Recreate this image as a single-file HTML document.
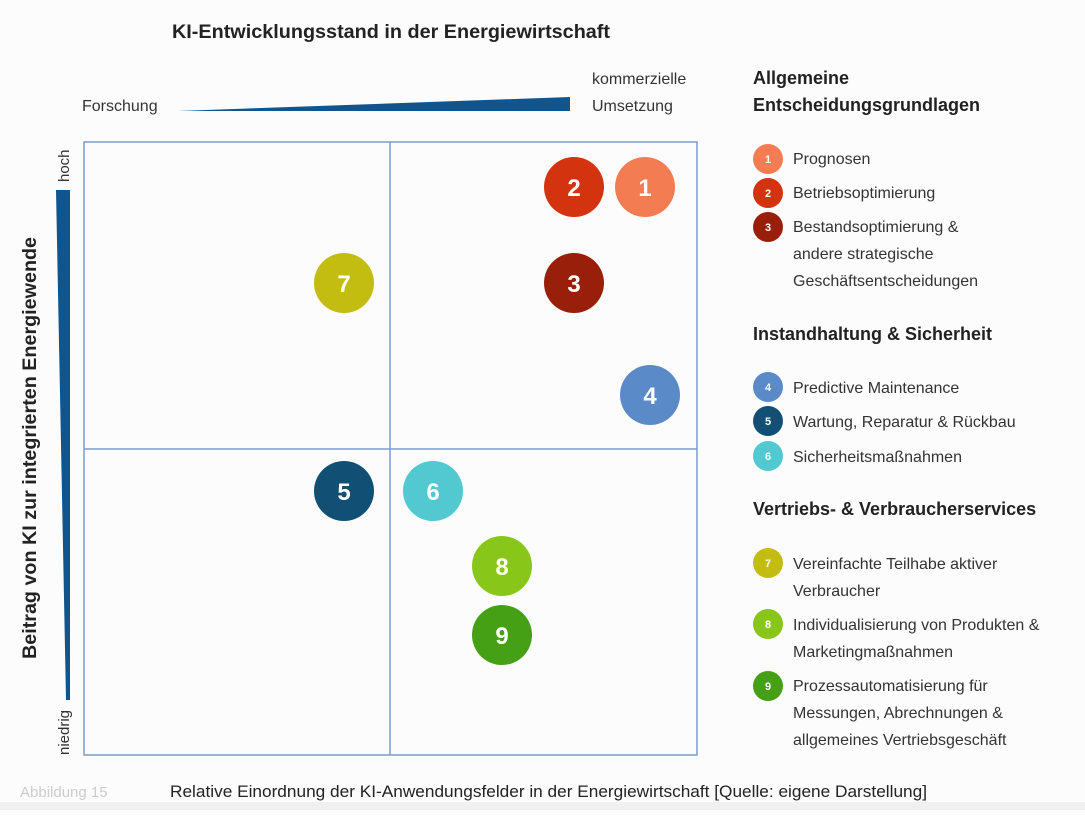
<!DOCTYPE html>
<html><head><meta charset="utf-8"><style>
body{margin:0;background:#fcfcfc;}
svg text{font-family:"Liberation Sans",sans-serif;}
</style></head><body>
<svg width="1085" height="810" viewBox="0 0 1085 810" xmlns="http://www.w3.org/2000/svg">
<rect width="1085" height="810" fill="#fcfcfc"/>
<rect x="0" y="802" width="1085" height="8" fill="#f0f0f0"/>
<text x="391" y="38" font-size="19" font-weight="bold" text-anchor="middle" fill="#222" textLength="438" lengthAdjust="spacingAndGlyphs">KI-Entwicklungsstand in der Energiewirtschaft</text>
<text x="82" y="111" font-size="16" fill="#333">Forschung</text>
<polygon points="178,111 570,97 570,111" fill="#0f5590"/>
<text x="592" y="84" font-size="16" fill="#333">kommerzielle</text>
<text x="592" y="111" font-size="16" fill="#333">Umsetzung</text>
<text transform="translate(69,182) rotate(-90)" font-size="15" fill="#333">hoch</text>
<text transform="translate(69,755) rotate(-90)" font-size="15" fill="#333">niedrig</text>
<polygon points="56,190 70,190 70,700 66,700" fill="#0f5590"/>
<text transform="translate(36,448) rotate(-90)" font-size="19" font-weight="bold" text-anchor="middle" fill="#222" textLength="422" lengthAdjust="spacingAndGlyphs">Beitrag von KI zur integrierten Energiewende</text>
<g stroke="#7d9bcb" stroke-width="1.5" fill="none">
<rect x="84" y="142" width="613" height="613"/>
<line x1="390" y1="142" x2="390" y2="755"/>
<line x1="84" y1="449" x2="697" y2="449"/>
</g>
<g font-size="24" font-weight="bold" fill="#fff" text-anchor="middle">
<circle cx="645" cy="187" r="30" fill="#f47c52"/><text x="645" y="196">1</text>
<circle cx="574" cy="187" r="30" fill="#d4330f"/><text x="574" y="196">2</text>
<circle cx="574" cy="283" r="30" fill="#9a1f0b"/><text x="574" y="292">3</text>
<circle cx="650" cy="395" r="30" fill="#5b8ac8"/><text x="650" y="404">4</text>
<circle cx="344" cy="491" r="30" fill="#124f75"/><text x="344" y="500">5</text>
<circle cx="433" cy="491" r="30" fill="#52c8d0"/><text x="433" y="500">6</text>
<circle cx="344" cy="283" r="30" fill="#c3bd12"/><text x="344" y="292">7</text>
<circle cx="502" cy="566" r="30" fill="#88c61a"/><text x="502" y="575">8</text>
<circle cx="502" cy="635" r="30" fill="#45a015"/><text x="502" y="644">9</text>
</g>
<g font-size="18" font-weight="bold" fill="#222">
<text x="753" y="84">Allgemeine</text>
<text x="753" y="111">Entscheidungsgrundlagen</text>
<text x="753" y="340">Instandhaltung &amp; Sicherheit</text>
<text x="753" y="515">Vertriebs- &amp; Verbraucherservices</text>
</g>
<g font-size="11" font-weight="bold" fill="#fff" text-anchor="middle">
<circle cx="768" cy="159" r="15" fill="#f47c52"/><text x="768" y="163">1</text>
<circle cx="768" cy="193" r="15" fill="#d4330f"/><text x="768" y="197">2</text>
<circle cx="768" cy="227" r="15" fill="#9a1f0b"/><text x="768" y="231">3</text>
<circle cx="768" cy="387" r="15" fill="#5b8ac8"/><text x="768" y="391">4</text>
<circle cx="768" cy="421" r="15" fill="#124f75"/><text x="768" y="425">5</text>
<circle cx="768" cy="456" r="15" fill="#52c8d0"/><text x="768" y="460">6</text>
<circle cx="768" cy="563" r="15" fill="#c3bd12"/><text x="768" y="567">7</text>
<circle cx="768" cy="624" r="15" fill="#88c61a"/><text x="768" y="628">8</text>
<circle cx="768" cy="686" r="15" fill="#45a015"/><text x="768" y="690">9</text>
</g>
<g font-size="16" fill="#333">
<text x="793" y="164">Prognosen</text>
<text x="793" y="198">Betriebsoptimierung</text>
<text x="793" y="232">Bestandsoptimierung &amp;</text>
<text x="793" y="259">andere strategische</text>
<text x="793" y="286">Geschäftsentscheidungen</text>
<text x="793" y="393">Predictive Maintenance</text>
<text x="793" y="427">Wartung, Reparatur &amp; Rückbau</text>
<text x="793" y="462">Sicherheitsmaßnahmen</text>
<text x="793" y="569">Vereinfachte Teilhabe aktiver</text>
<text x="793" y="596">Verbraucher</text>
<text x="793" y="630">Individualisierung von Produkten &amp;</text>
<text x="793" y="657">Marketingmaßnahmen</text>
<text x="793" y="691">Prozessautomatisierung für</text>
<text x="793" y="718">Messungen, Abrechnungen &amp;</text>
<text x="793" y="745">allgemeines Vertriebsgeschäft</text>
</g>
<text x="20" y="797" font-size="15" fill="#ccc">Abbildung 15</text>
<text x="170" y="797" font-size="17" fill="#222" textLength="757" lengthAdjust="spacingAndGlyphs">Relative Einordnung der KI-Anwendungsfelder in der Energiewirtschaft [Quelle: eigene Darstellung]</text>
</svg>
</body></html>
